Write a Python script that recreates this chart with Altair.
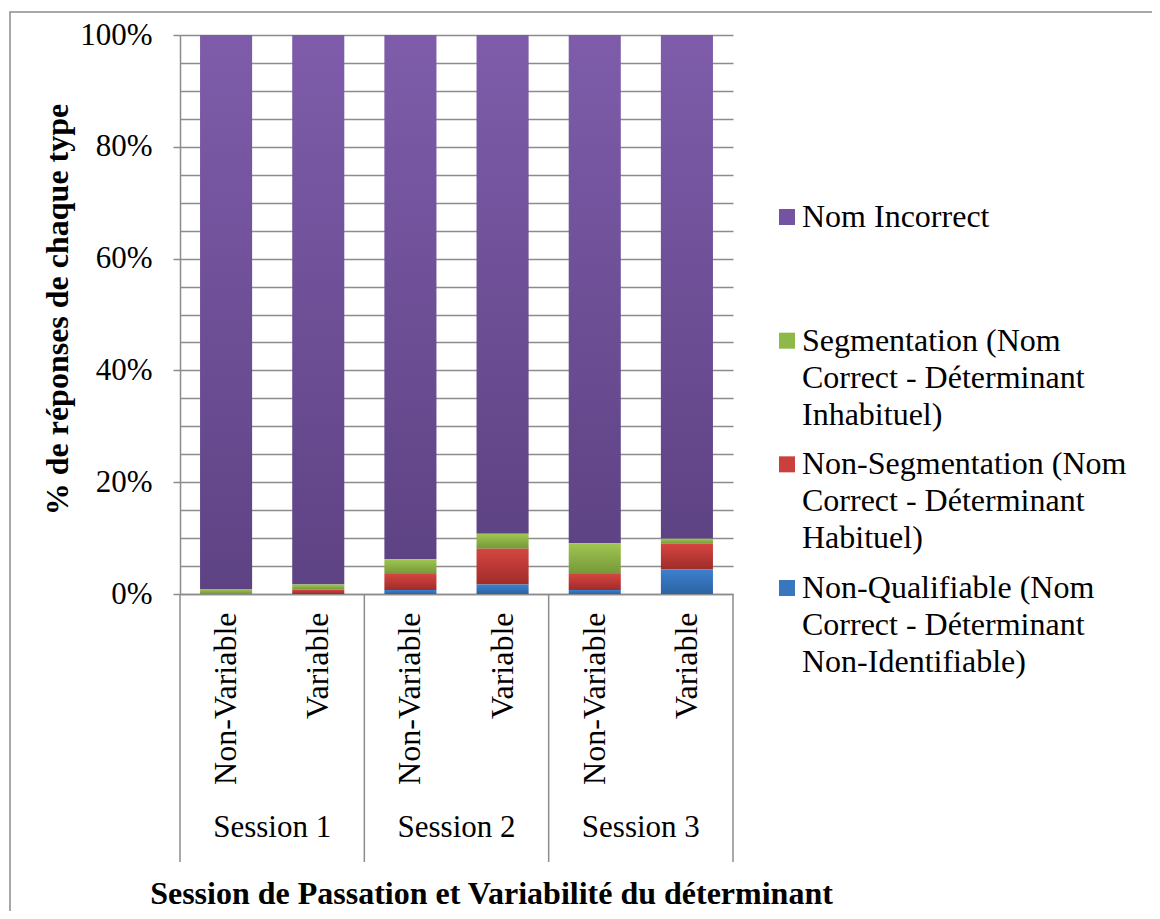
import altair as alt
import pandas as pd

# ---------------- data ----------------
sessions = ["Session 1", "Session 2", "Session 3"]
variabilities = ["Non-Variable", "Variable"]

types = ["Nom Incorrect", "Segmentation", "Non-Segmentation", "Non-Qualifiable"]
legend_lines = {
    "Nom Incorrect": ["Nom Incorrect"],
    "Segmentation": ["Segmentation (Nom", "Correct - Déterminant", "Inhabituel)"],
    "Non-Segmentation": ["Non-Segmentation (Nom", "Correct - Déterminant", "Habituel)"],
    "Non-Qualifiable": ["Non-Qualifiable (Nom", "Correct - Déterminant", "Non-Identifiable)"],
}
stack_order = {"Non-Qualifiable": 0, "Non-Segmentation": 1, "Segmentation": 2, "Nom Incorrect": 3}

# percentages per bar: S1 NV, S1 V, S2 NV, S2 V, S3 NV, S3 V
nom_incorrect    = [99.1, 98.3, 93.8, 89.2, 90.9, 90.1]
segmentation     = [0.9, 0.9, 2.6, 2.7, 5.5, 0.9]
non_segmentation = [0.0, 0.8, 2.9, 6.4, 2.9, 4.6]
non_qualifiable  = [0.0, 0.0, 0.7, 1.7, 0.7, 4.4]

series = {
    "Nom Incorrect": nom_incorrect,
    "Segmentation": segmentation,
    "Non-Segmentation": non_segmentation,
    "Non-Qualifiable": non_qualifiable,
}

solid_colors = ["#7652A3", "#8FB84A", "#C9403C", "#3A76C0"]
gradients = {
    "Nom Incorrect": ("#7E5CAA", "#5E4384"),
    "Segmentation": ("#A0C650", "#76973A"),
    "Non-Segmentation": ("#D64541", "#9E2C29"),
    "Non-Qualifiable": ("#3C80CD", "#2C63A3"),
}

y_grid_values = [i / 20 for i in range(21)]

# ---------------- tables ----------------
cats = [f"{s}|{v}" for s in sessions for v in variabilities]
rows = []
for t in types:
    for i, c in enumerate(cats):
        rows.append({"cat": c, "type": t, "value": series[t][i], "ord": stack_order[t]})
df = pd.DataFrame(rows)

sess_first = pd.DataFrame({"cat": [f"{s}|{variabilities[0]}" for s in sessions], "session": sessions})
sess_last = pd.DataFrame({"cat": [cats[-1]]})
legend_df = pd.DataFrame({"type": types, "label": ["\n".join(legend_lines[t]) for t in types]})

FONT = "Liberation Serif, Times New Roman, Times, serif"
GRID = "#8C8C8C"
W, H = 553, 559

x_axis = alt.Axis(
    title="Session de Passation et Variabilité du déterminant",
    labelExpr="split(datum.label, '|')[1]",
    labelAngle=-90,
    labelFont=FONT,
    labelFontSize=32,
    labelColor="black",
    labelPadding=18,
    ticks=False,
    domainColor=GRID,
    domainWidth=1.5,
    titleFont=FONT,
    titleFontSize=32,
    titleFontWeight="bold",
    titleColor="black",
    titleX=311,
    titleY=299,
    titleBaseline="middle",
    titleAlign="center",
    titleAnchor="middle",
)

y_axis = alt.Axis(
    title="% de réponses de chaque type",
    values=y_grid_values,
    format=".0%",
    labelExpr="round(datum.value * 100) % 20 === 0 ? datum.label : ''",
    labelFont=FONT,
    labelFontSize=31,
    labelColor="black",
    labelPadding=21,
    tickSize=7,
    tickColor=GRID,
    tickWidth=1.5,
    tickOpacity={"condition": {"test": "round(datum.value * 100) % 20 === 0", "value": 1}, "value": 0},
    grid=True,
    gridColor=GRID,
    gridWidth=1.3,
    domainColor=GRID,
    domainWidth=1.5,
    titleFont=FONT,
    titleFontSize=32,
    titleFontWeight="bold",
    titleColor="black",
    titleX=-123,
    titleY=274,
    titleAngle=-90,
    titleBaseline="middle",
    titleAlign="center",
)

x_scale = alt.Scale(paddingInner=0, paddingOuter=0)
y_scale = alt.Scale(domain=[0, 1], nice=False, zero=True)
color_scale = alt.Scale(domain=types, range=solid_colors)

base = alt.Chart(df).transform_stack(
    stack="value",
    as_=["y0", "y1"],
    groupby=["cat"],
    sort=[alt.SortField("ord", order="ascending")],
    offset="normalize",
)

BAR_W = alt.RelativeBandSize(0.565)

bar_layers = []
for t in types:
    top, bottom = gradients[t]
    grad = alt.Gradient(
        gradient="linear",
        x1=0, x2=0, y1=0, y2=1,
        stops=[alt.GradientStop(color=top, offset=0), alt.GradientStop(color=bottom, offset=1)],
    )
    bar_layers.append(
        base.transform_filter(alt.datum.type == t)
        .mark_bar(width=BAR_W, color=grad)
        .encode(
            x=alt.X("cat:N", sort=cats, scale=x_scale, axis=x_axis),
            y=alt.Y("y0:Q", scale=y_scale, axis=y_axis),
            y2="y1:Q",
        )
    )

sep_left = alt.Chart(sess_first).mark_rule(color=GRID, strokeWidth=1.5).encode(
    x=alt.X("cat:N", sort=cats, bandPosition=0, scale=x_scale, axis=x_axis),
    y=alt.value(H),
    y2=alt.value(H + 268),
)
sep_right = alt.Chart(sess_last).mark_rule(color=GRID, strokeWidth=1.5).encode(
    x=alt.X("cat:N", sort=cats, bandPosition=1, scale=x_scale, axis=x_axis),
    y=alt.value(H),
    y2=alt.value(H + 268),
)
sess_text = alt.Chart(sess_first).mark_text(font=FONT, fontSize=31, color="black", baseline="middle").encode(
    x=alt.X("cat:N", sort=cats, bandPosition=1, scale=x_scale, axis=x_axis),
    y=alt.value(H + 234),
    text="session:N",
)

main = alt.layer(*bar_layers, sep_left, sep_right, sess_text)

# ---------------- legend (drawn from legend_df) ----------------
leg_y = alt.Y("type:N", sort=types, axis=None,
              scale=alt.Scale(type="point", domain=types, range=[182, 553], padding=0))
leg_sq = alt.Chart(legend_df).mark_square(size=256, opacity=1).encode(
    x=alt.value(607),
    y=leg_y,
    color=alt.Color("type:N", scale=color_scale, legend=None),
)
leg_txt = alt.Chart(legend_df).mark_text(
    font=FONT, fontSize=32, color="black", align="left", baseline="top",
    lineBreak="\n", lineHeight=37, dy=-15,
).encode(
    x=alt.value(622),
    y=leg_y,
    text="label:N",
)
legend = alt.layer(leg_sq, leg_txt)

frame = alt.Chart(pd.DataFrame({"f": [0]})).mark_rect(
    fill="white", fillOpacity=0, stroke="#8C8C8C", strokeWidth=1.5
).encode(
    x=alt.value(-170), x2=alt.value(1100), y=alt.value(-23), y2=alt.value(1000)
)

chart = alt.layer(frame, main, legend).resolve_scale(y="independent").properties(
    width=W,
    height=H,
    autosize=alt.AutoSizeParams(type="none"),
    padding={"left": 172, "top": 27, "right": 419, "bottom": 317},
    background="white",
).configure_view(stroke=None)

chart.save("out.html", embed_options={"renderer": "svg", "actions": False})
